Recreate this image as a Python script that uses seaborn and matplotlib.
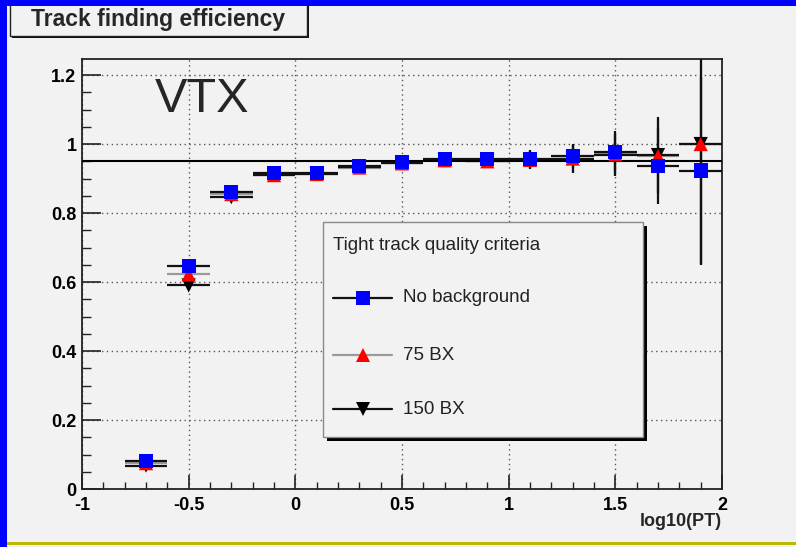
import numpy as np
import pandas as pd
import matplotlib
matplotlib.use("Agg")
import matplotlib.pyplot as plt
import seaborn as sns
from matplotlib.patches import Rectangle
from matplotlib.lines import Line2D
from matplotlib.ticker import MultipleLocator, FixedLocator

# ---------------- data ----------------
log_pt = [-0.7, -0.5, -0.3, -0.1, 0.1, 0.3, 0.5, 0.7, 0.9, 1.1, 1.3, 1.5, 1.7, 1.9]
bin_half_width = 0.1

eff_nobg = [0.082, 0.647, 0.862, 0.915, 0.915, 0.936, 0.947, 0.956, 0.957, 0.957, 0.965, 0.978, 0.937, 0.923]
err_nobg = [0.006, 0.010, 0.008, 0.006, 0.006, 0.006, 0.007, 0.008, 0.010, 0.026, 0.035, 0.060, 0.110, 0.270]

eff_75bx = [0.075, 0.622, 0.855, 0.910, 0.913, 0.932, 0.944, 0.953, 0.950, 0.954, 0.958, 0.970, 0.965, 1.000]
err_75bx = [0.006, 0.010, 0.008, 0.006, 0.006, 0.006, 0.007, 0.008, 0.010, 0.026, 0.040, 0.060, 0.110, 0.350]

eff_150bx = [0.068, 0.590, 0.846, 0.911, 0.913, 0.934, 0.944, 0.953, 0.951, 0.954, 0.957, 0.968, 0.968, 1.000]
err_150bx = [0.006, 0.010, 0.008, 0.006, 0.006, 0.006, 0.007, 0.008, 0.010, 0.026, 0.040, 0.060, 0.110, 0.350]

series_names = ["150 BX", "75 BX", "No background"]   # drawing order (last on top)
legend_order = ["No background", "75 BX", "150 BX"]
reference_level = 0.95

x_ticks = [-1, -0.5, 0, 0.5, 1, 1.5, 2]
y_ticks = [0, 0.2, 0.4, 0.6, 0.8, 1.0, 1.2]
x_tick_labels = ["-1", "-0.5", "0", "0.5", "1", "1.5", "2"]
y_tick_labels = ["0", "0.2", "0.4", "0.6", "0.8", "1", "1.2"]

title_text = "Track finding efficiency"
legend_title = "Tight track quality criteria"
x_label = "log10(PT)"
tag_text = "VTX"

# ---------------- style ----------------
sns.set_theme(style="ticks")
plt.rcParams["font.family"] = ["Liberation Sans", "DejaVu Sans"]

W, H = 796, 547
BG = "#f2f2f2"
def fx(x): return x / W
def fy(y): return 1 - y / H

fig = plt.figure(figsize=(W / 100, H / 100), dpi=100, facecolor=BG)

# frame decorations (blue left/top strips, olive bottom line)
fig.add_artist(Rectangle((0, 0), fx(7), 1, transform=fig.transFigure, fc="#0000ff", ec="none", zorder=10))
fig.add_artist(Rectangle((0, fy(6)), 1, 6 / H, transform=fig.transFigure, fc="#0000ff", ec="none", zorder=10))
fig.add_artist(Rectangle((fx(7), fy(545)), 1, 3 / H, transform=fig.transFigure, fc="#bdb800", ec="none", zorder=10))

ax = fig.add_axes([fx(82), fy(489), 640 / W, 430.5 / H])
ax.set_facecolor(BG)

colors = {"No background": "#0000ff", "75 BX": "#ff0000", "150 BX": "#000000"}
markers = {"No background": "s", "75 BX": "^", "150 BX": "v"}
line_colors = {"No background": "#111111", "75 BX": "#9a9a9a", "150 BX": "#111111"}
effs = {"No background": eff_nobg, "75 BX": eff_75bx, "150 BX": eff_150bx}
errs = {"No background": err_nobg, "75 BX": err_75bx, "150 BX": err_150bx}

rows = []
for name in series_names:
    for xv, yv in zip(log_pt, effs[name]):
        rows.append({"log10(PT)": xv, "efficiency": yv, "series": name})
df = pd.DataFrame(rows)

# error bars (gray first so black stays on top)
for i, name in enumerate(["75 BX", "150 BX", "No background"]):
    ax.errorbar(log_pt, effs[name], yerr=errs[name], xerr=bin_half_width,
                fmt="none", ecolor=line_colors[name], elinewidth=1.6, capsize=0, zorder=3 + i * 0.1)

sns.scatterplot(data=df, x="log10(PT)", y="efficiency", hue="series", style="series",
                palette=colors, markers=markers, s=105, linewidth=0, edgecolor="none",
                legend=False, ax=ax, zorder=5)

ax.axhline(reference_level, color="black", lw=1.5, zorder=4)

ax.set_xlim(-1, 2)
ax.set_ylim(0, 1.248)
ax.xaxis.set_major_locator(FixedLocator(x_ticks))
ax.yaxis.set_major_locator(FixedLocator(y_ticks))
ax.set_xticklabels(x_tick_labels, fontweight="bold", fontsize=13)
ax.set_yticklabels(y_tick_labels, fontweight="bold", fontsize=13)
ax.xaxis.set_minor_locator(MultipleLocator(0.1))
ax.yaxis.set_minor_locator(MultipleLocator(0.05))
ax.tick_params(axis="x", which="major", direction="in", length=10, width=1.2, color="#222", pad=6)
ax.tick_params(axis="x", which="minor", direction="in", length=5, width=1.0, color="#222")
ax.tick_params(axis="y", which="major", direction="in", length=14, width=1.2, color="#222", pad=4)
ax.tick_params(axis="y", which="minor", direction="in", length=6.5, width=1.0, color="#222")
ax.tick_params(labelcolor="black")
ax.grid(True, which="major", color="#555555", linestyle=(0, (1, 2.5)), lw=1.0)
ax.set_axisbelow(True)
for sp in ax.spines.values():
    sp.set_color("#222222")
    sp.set_linewidth(1.3)
    sp.set_visible(True)
ax.set_xlabel(x_label, fontweight="bold", fontsize=13, loc="right", labelpad=-1)
ax.set_ylabel("")

ax.text(fx(155 - 82) * W / 640, (489 - 112) / 430.5, tag_text, transform=ax.transAxes,
        fontsize=35, ha="left", va="baseline", zorder=6)

# title box
fig.add_artist(Rectangle((fx(12), fy(38)), 297 / W, 32 / H, transform=fig.transFigure,
                         fc="#111111", ec="none", zorder=8))
fig.add_artist(Rectangle((fx(10), fy(36)), 297 / W, 32 / H, transform=fig.transFigure,
                         fc=BG, ec="#222222", lw=1.0, zorder=9))
fig.text(fx(158.5), fy(26), title_text, fontsize=16.5, fontweight="bold",
         ha="center", va="baseline", zorder=11)

# legend box
fig.add_artist(Rectangle((fx(327), fy(441)), 320 / W, 215 / H, transform=fig.transFigure,
                         fc="#000000", ec="none", zorder=20))
fig.add_artist(Rectangle((fx(323), fy(437)), 320 / W, 215 / H, transform=fig.transFigure,
                         fc=BG, ec="#8a8a8a", lw=1.0, zorder=21))
fig.text(fx(333), fy(245), legend_title, fontsize=13.5, ha="left", va="center", zorder=22,
         color="#222222")
for name, yp in zip(legend_order, [298, 355, 409]):
    fig.add_artist(Line2D([fx(333), fx(392)], [fy(yp), fy(yp)], transform=fig.transFigure,
                          color=line_colors[name], lw=1.6, zorder=22))
    fig.add_artist(Line2D([fx(363)], [fy(yp)], transform=fig.transFigure, marker=markers[name],
                          markersize=10, color=colors[name], markeredgewidth=0, zorder=23))
    fig.text(fx(403), fy(yp), name, fontsize=13.5, ha="left", va="center", zorder=22,
             color="#222222")

fig.savefig("out.png", dpi=100, facecolor=BG)
